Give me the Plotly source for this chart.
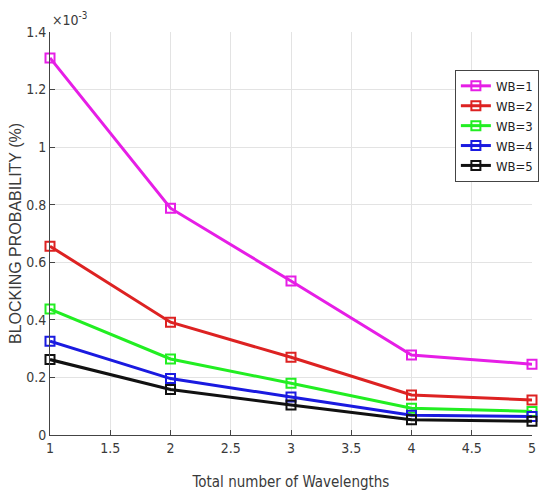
import plotly.graph_objects as go

wavelengths = [1, 2, 3, 4, 5]
series_names = ["WB=1", "WB=2", "WB=3", "WB=4", "WB=5"]
wb1 = [1.31, 0.788, 0.535, 0.278, 0.246]
wb2 = [0.656, 0.392, 0.270, 0.139, 0.122]
wb3 = [0.4375, 0.264, 0.180, 0.093, 0.082]
wb4 = [0.326, 0.196, 0.132, 0.069, 0.064]
wb5 = [0.262, 0.158, 0.104, 0.053, 0.048]
series_values = [wb1, wb2, wb3, wb4, wb5]
colors = ["#E61EE6", "#DD2222", "#22EE22", "#1A1AE0", "#111111"]
x_ticks = [1, 1.5, 2, 2.5, 3, 3.5, 4, 4.5, 5]
y_ticks = [0, 0.2, 0.4, 0.6, 0.8, 1, 1.2, 1.4]

narrow = "DejaVu Sans Condensed, Liberation Sans Narrow, Arial Narrow, sans-serif"

fig = go.Figure()
for name, vals, c in zip(series_names, series_values, colors):
    fig.add_trace(go.Scatter(
        x=wavelengths, y=vals, name=name, mode="lines+markers",
        line=dict(color=c, width=3),
        marker=dict(symbol="square-open", size=9, color=c, line=dict(width=2, color=c)),
        cliponaxis=False,
    ))

fig.update_layout(
    width=544, height=493,
    margin=dict(l=50, r=5, t=32, b=58),
    paper_bgcolor="white", plot_bgcolor="white",
    font=dict(family=narrow, size=14, color="#3a3a3a"),
    showlegend=True,
    legend=dict(
        x=0.84, y=0.906, xanchor="left", yanchor="top",
        bgcolor="white", bordercolor="#444", borderwidth=1,
        font=dict(family=narrow, size=13, color="#222"),
        tracegroupgap=0, itemwidth=30,
    ),
    xaxis=dict(
        range=[1, 5], tickvals=x_ticks, ticktext=[str(t) for t in x_ticks],
        showgrid=True, gridcolor="#e3e3e3", gridwidth=1,
        showline=True, linecolor="#444", linewidth=1,
        ticks="inside", ticklen=5, tickcolor="#444",
        zeroline=False, automargin=False, ticklabeloverflow="allow",
        title=dict(text="Total number of Wavelengths", font=dict(family=narrow, size=15, color="#3a3a3a"), standoff=21),
    ),
    yaxis=dict(
        range=[0, 1.4], tickvals=y_ticks, ticktext=["0", "0.2", "0.4", "0.6", "0.8", "1", "1.2", "1.4"],
        showgrid=True, gridcolor="#e3e3e3", gridwidth=1,
        showline=True, linecolor="#444", linewidth=1,
        ticks="inside", ticklen=5, tickcolor="#444",
        zeroline=False, automargin=False,
        title=dict(text="BLOCKING PROBABILITY (%)", font=dict(family="Liberation Sans, Arial", size=16, color="#3a3a3a"), standoff=0),
    ),
    annotations=[dict(
        xref="paper", yref="paper", x=0.0, y=1.0, xanchor="left", yanchor="bottom",
        text="×10<sup>-3</sup>", showarrow=False,
        font=dict(family=narrow, size=14, color="#3a3a3a"), yshift=2,
    )],
)

fig.write_html("out.html", config={"displayModeBar": False},
               post_script="document.body.style.margin='0';document.body.style.overflow='hidden';")
